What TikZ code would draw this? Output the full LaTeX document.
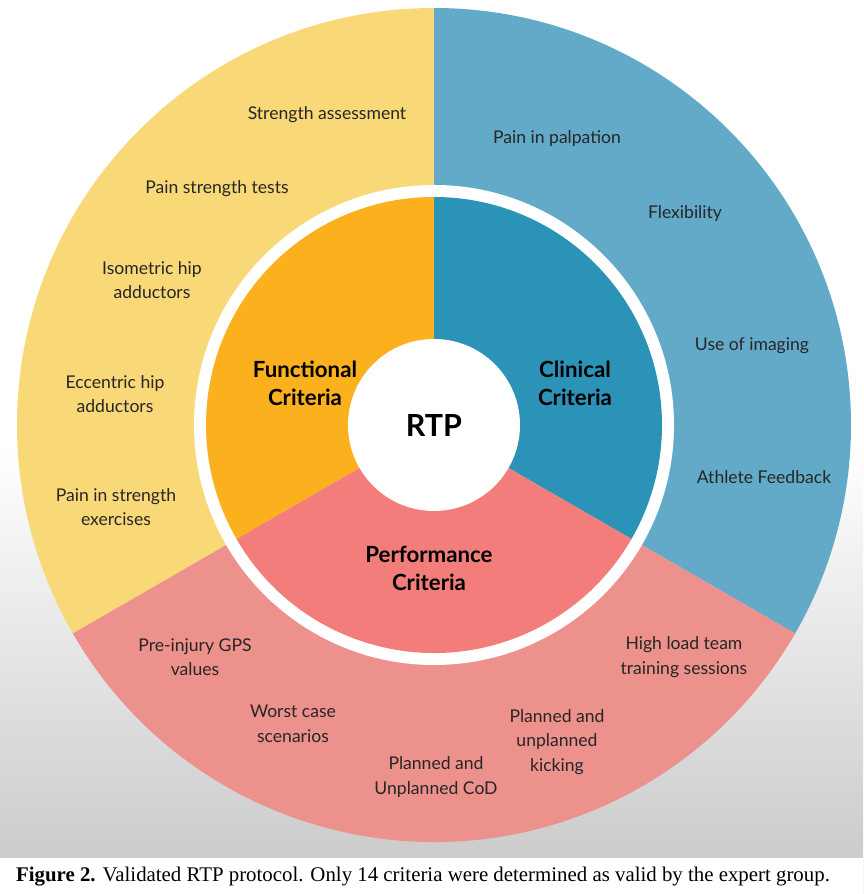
\documentclass[tikz,border=0pt]{standalone}
\usepackage{fontspec}
\setmainfont{Liberation Serif}
\newfontfamily\labfont{Lato}
\usetikzlibrary{positioning}
\definecolor{yelout}{HTML}{F9D878}
\definecolor{yelin}{HTML}{FBB01E}
\definecolor{bluout}{HTML}{63AAC9}
\definecolor{bluin}{HTML}{2B93B8}
\definecolor{pinkout}{HTML}{EC918C}
\definecolor{pinkin}{HTML}{F27D7A}
\tikzset{
  crit/.style={font=\labfont\fontsize{15}{21}\selectfont, align=center, text=black!85},
  main/.style={font=\labfont\bfseries\fontsize{19}{24}\selectfont, align=center},
}
\begin{document}
\begin{tikzpicture}[x=0.03cm, y=0.03cm]
    \useasboundingbox (0,0) rectangle (863,894);
    \shade[top color=white, bottom color=black!22, middle color=white] (0,0) rectangle (863,894);
    \fill[white] (0,0) rectangle (863,36);
    \coordinate (c) at (434,469);
    % outer ring
    \fill[yelout] (c) -- ++(90:417) arc[start angle=90, end angle=210, radius=417] -- cycle;
    \fill[bluout] (c) -- ++(90:417) arc[start angle=90, end angle=-30, radius=417] -- cycle;
    \fill[pinkout] (c) -- ++(210:417) arc[start angle=210, end angle=330, radius=417] -- cycle;
    \fill[white] (c) circle[radius=240];
    % inner ring
    \fill[yelin] (c) -- ++(90:228) arc[start angle=90, end angle=210, radius=228] -- cycle;
    \fill[bluin] (c) -- ++(90:228) arc[start angle=90, end angle=-30, radius=228] -- cycle;
    \fill[pinkin] (c) -- ++(210:228) arc[start angle=210, end angle=330, radius=228] -- cycle;
    \fill[white] (c) circle[radius=86];
    \node (rtp) at (c) [font=\labfont\bfseries\fontsize{26}{30}\selectfont] {RTP};
    \node (func) at (305,511) [main] {Functional\\Criteria};
    \node (clin) at (575,511) [main] {Clinical\\Criteria};
    \node (perf) at (429,326) [main] {Performance\\Criteria};
    % functional
    \node (sa) at (327,779) [crit] {Strength assessment};
    \node (pst) at (217,705) [crit] {Pain strength tests};
    \node (iha) at (152,614) [crit] {Isometric hip\\adductors};
    \node (eha) at (115,500) [crit] {Eccentric hip\\adductors};
    \node (pse) at (116,387) [crit] {Pain in strength\\exercises};
    % clinical
    \node (pp) at (557,755) [crit] {Pain in palpation};
    \node (flex) at (685,680) [crit] {Flexibility};
    \node (img) at (752,548) [crit] {Use of imaging};
    \node (afb) at (764,417) [crit] {Athlete Feedback};
    % performance
    \node (gps) at (195,237) [crit] {Pre-injury GPS\\values};
    \node (wcs) at (293,170) [crit] {Worst case\\scenarios};
    \node (cod) at (436,117) [crit] {Planned and\\Unplanned CoD};
    \node (kick) at (557,152) [crit] {Planned and\\unplanned\\kicking};
    \node (hl) at (684,237) [crit] {High load team\\training sessions};
    \node (cap) at (12,17) [anchor=west, font=\fontsize{17.8}{20}\selectfont] {\textbf{Figure 2.} Validated RTP protocol. Only 14 criteria were determined as valid by the expert group.};
\end{tikzpicture}
\end{document}
